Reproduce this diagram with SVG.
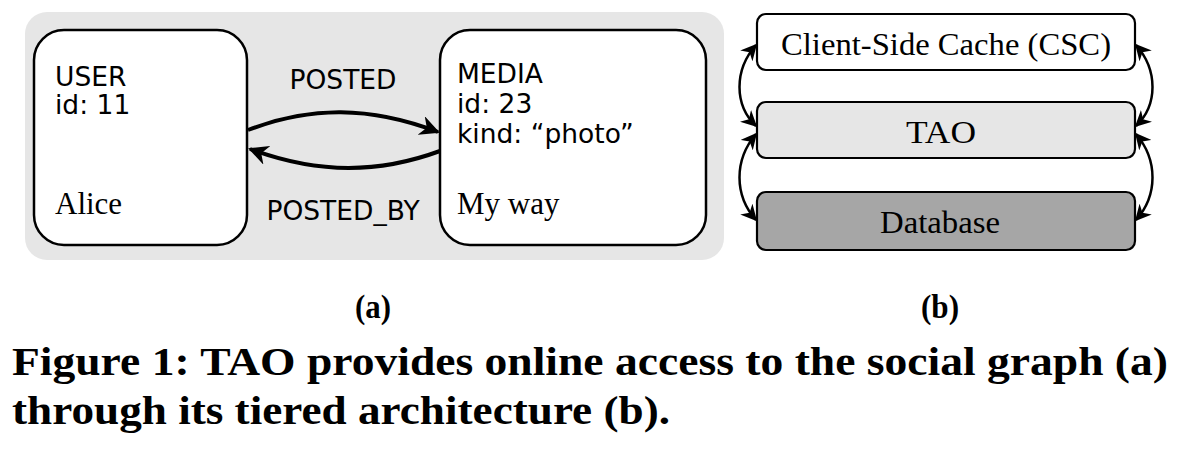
<svg xmlns="http://www.w3.org/2000/svg" width="1178" height="464" viewBox="0 0 1178 464">
<style>
.sans{font-family:"DejaVu Sans","Liberation Sans",sans-serif;font-size:26.5px;fill:#000}
.serif{font-family:"Liberation Serif","DejaVu Serif",serif;font-size:31px;fill:#000}
.tl{font-family:"Liberation Serif","DejaVu Serif",serif;font-size:32px;fill:#000}
.cap{font-family:"Liberation Serif","DejaVu Serif",serif;font-weight:bold;fill:#000}
.node{fill:#fff;stroke:#000;stroke-width:2.5}
.tier{stroke:#000;stroke-width:2.2}
.edge{fill:none;stroke:#000;stroke-width:4}
.dbl{fill:none;stroke:#000;stroke-width:2.5}
</style>
<defs>
<marker id="ah" viewBox="0 0 10 10" refX="9" refY="5" markerWidth="5" markerHeight="5" orient="auto" markerUnits="strokeWidth">
<path d="M0,0 L10,5 L0,10 L3,5 z" fill="#000"/>
</marker>
<marker id="sh" viewBox="0 0 10 10" refX="9" refY="5" markerWidth="6.5" markerHeight="6.5" orient="auto-start-reverse" markerUnits="strokeWidth">
<path d="M0,0 L10,5 L0,10 L3,5 z" fill="#000"/>
</marker>
</defs>
<rect x="25" y="12" width="699" height="248" rx="22" fill="#e6e6e6"/>
<g id="user">
<rect class="node" x="34" y="30" width="213" height="215" rx="30"/>
<text class="sans" x="55" y="86">USER</text>
<text class="sans" x="55" y="114">id: 11</text>
<text class="serif" x="55" y="214">Alice</text>
</g>
<g id="media">
<rect class="node" x="440" y="30" width="266" height="215" rx="30"/>
<text class="sans" x="457" y="83">MEDIA</text>
<text class="sans" x="457" y="113">id: 23</text>
<text class="sans" x="457" y="143">kind: “photo”</text>
<text class="serif" x="457" y="214">My way</text>
</g>
<g id="csc">
<rect class="tier" x="757" y="14" width="378" height="56" rx="9" fill="#fff"/>
<text class="tl" x="946" y="55" text-anchor="middle" textLength="330" lengthAdjust="spacingAndGlyphs">Client-Side Cache (CSC)</text>
</g>
<g id="tao">
<rect class="tier" x="757" y="102" width="378" height="56" rx="9" fill="#e6e6e6"/>
<text class="tl" x="941" y="143" text-anchor="middle" textLength="70" lengthAdjust="spacingAndGlyphs">TAO</text>
</g>
<g id="database">
<rect class="tier" x="757" y="192" width="378" height="58" rx="9" fill="#a6a6a6"/>
<text class="tl" x="940" y="233" text-anchor="middle" textLength="120" lengthAdjust="spacingAndGlyphs">Database</text>
</g>
<g id="connectors">
<path class="edge" d="M248,130 C310,106 370,106 438,132" marker-end="url(#ah)"/>
<text class="sans" x="343" y="89" text-anchor="middle">POSTED</text>
<path class="edge" d="M440,151 C380,173 320,175 250,149" marker-end="url(#ah)"/>
<text class="sans" x="343" y="220" text-anchor="middle">POSTED_BY</text>
<path class="dbl" d="M756,45 C734,70 734,105 756,126" marker-start="url(#sh)" marker-end="url(#sh)"/>
<path class="dbl" d="M756,134 C734,160 734,195 756,220" marker-start="url(#sh)" marker-end="url(#sh)"/>
<path class="dbl" d="M1136,45 C1158,70 1158,105 1136,126" marker-start="url(#sh)" marker-end="url(#sh)"/>
<path class="dbl" d="M1136,134 C1158,160 1158,195 1136,220" marker-start="url(#sh)" marker-end="url(#sh)"/>
</g>
<text class="cap" x="373" y="318" font-size="33" text-anchor="middle" textLength="36" lengthAdjust="spacingAndGlyphs">(a)</text>
<text class="cap" x="940" y="318" font-size="33" text-anchor="middle" textLength="38" lengthAdjust="spacingAndGlyphs">(b)</text>
<text class="cap" x="12" y="375" font-size="39" textLength="1156" lengthAdjust="spacingAndGlyphs">Figure 1: TAO provides online access to the social graph (a)</text>
<text class="cap" x="12" y="424" font-size="39" textLength="658" lengthAdjust="spacingAndGlyphs">through its tiered architecture (b).</text>
</svg>
